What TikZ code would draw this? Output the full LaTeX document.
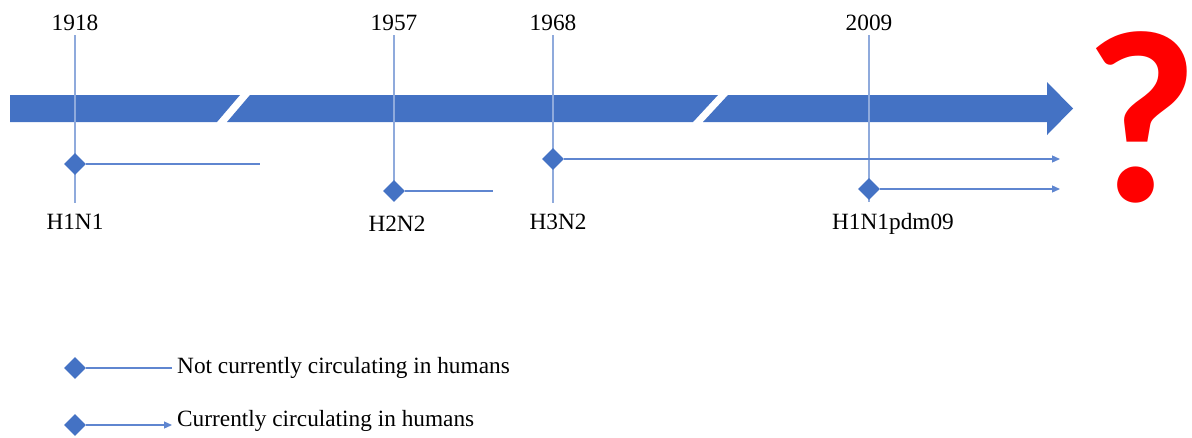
\documentclass[tikz,border=0pt]{standalone}
\usepackage{fontspec}
\setmainfont{Liberation Serif}
\newfontfamily\qmarkfont{Carlito}
\usetikzlibrary{arrows.meta,positioning,shapes.geometric}
\definecolor{barblue}{HTML}{4472C4}
\definecolor{tickblue}{HTML}{8FAADC}
\definecolor{lineblue}{HTML}{5F86D0}

\begin{document}
\begin{tikzpicture}[x=1pt,y=-1pt,>={Triangle[length=8pt,width=7pt]}]
\tikzset{
				yearlbl/.style={
					inner sep=0pt,
					font=\fontsize{23.3}{27}\selectfont
				},
				gem/.style={
					diamond,
					fill=barblue,
					inner sep=0pt,
					minimum size=22pt
				},
				tickline/.style={draw=tickblue,line width=1.2pt},
				spanline/.style={draw=lineblue,line width=1.3pt}
			}
			\useasboundingbox (0,0) rectangle (1192,437);

			% timeline bar, cut twice
			\fill[barblue] (10,95) -- (240,95) -- (217,122) -- (10,122) -- cycle;
			\fill[barblue] (250,95) -- (718,95) -- (693,122) -- (227,122) -- cycle;
			\fill[barblue] (728,95) -- (1047,95) -- (1047,82) -- (1073,108.5)
				-- (1047,135) -- (1047,122) -- (703,122) -- cycle;

			\node[yearlbl] (y1918) at (75,23) {1918};
			\node[yearlbl] (y1957) at (394,23) {1957};
			\node[yearlbl] (y1968) at (553,23) {1968};
			\node[yearlbl] (y2009) at (869,23) {2009};

			\coordinate (b1918) at (75,203);
			\coordinate (b1957) at (394,191);
			\coordinate (b1968) at (553,203);
			\coordinate (b2009) at (869,202);

			\draw[tickline,shorten <=4pt] (y1918.south) -- (b1918);
			\draw[tickline,shorten <=4pt] (y1957.south) -- (b1957);
			\draw[tickline,shorten <=4pt] (y1968.south) -- (b1968);
			\draw[tickline,shorten <=4pt] (y2009.south) -- (b2009);

			\node[gem] (h1n1) at (75,164) {};
			\node[gem] (h2n2) at (b1957) {};
			\node[gem] (h3n2) at (553,159) {};
			\node[gem] (pdm) at (869,189) {};

			\coordinate (e1918) at (260,164);
			\coordinate (e1957) at (493,191);
			\coordinate (e1968) at (1060,159);
			\coordinate (e2009) at (1060,189);

			\draw[spanline] (h1n1) -- (e1918);
			\draw[spanline] (h2n2) -- (e1957);
			\draw[spanline,->,fill=lineblue] (h3n2) -- (e1968);
			\draw[spanline,->,fill=lineblue] (pdm) -- (e2009);

			\node[yearlbl] (s1918) at (75,222) {H1N1};
			\node[yearlbl] (s1957) at (397,224) {H2N2};
			\node[yearlbl] (s1968) at (558,222) {H3N2};
			\node[yearlbl] (s2009) at (893,224) {H1N1pdm09};

			\node[text=red,inner sep=0pt,font=\qmarkfont\bfseries\fontsize{246}{246}\selectfont] (qmark) at (1141,117) {?};

			% legend
			\node[gem] (leg1) at (75,368) {};
			\node[gem] (leg2) at (75,425) {};
			\node[yearlbl,anchor=west] (notcirc) at (177,368) {Not currently circulating in humans};
			\node[yearlbl,anchor=west] (circ) at (177,421) {Currently circulating in humans};
			\draw[spanline,shorten >=5pt] (leg1) -- (notcirc.west);
			\draw[spanline,shorten >=5pt,->,fill=lineblue] (leg2) -- (leg2 -| circ.west);
\end{tikzpicture}
\end{document}
